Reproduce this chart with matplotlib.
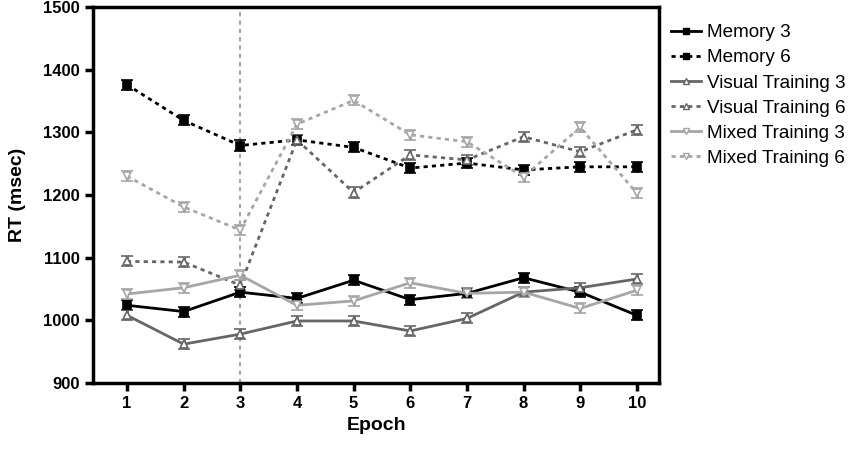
import numpy as np
import matplotlib.pyplot as plt
from matplotlib.lines import Line2D

plt.rcParams['font.family'] = ['Liberation Sans', 'DejaVu Sans']

epochs = [1, 2, 3, 4, 5, 6, 7, 8, 9, 10]
memory3 = [1024, 1014, 1045, 1035, 1064, 1033, 1043, 1068, 1045, 1008]
memory6 = [1376, 1319, 1279, 1288, 1276, 1243, 1251, 1240, 1245, 1245]
visual3 = [1008, 962, 978, 999, 999, 983, 1003, 1045, 1052, 1066]
visual6 = [1094, 1093, 1056, 1288, 1204, 1264, 1256, 1293, 1269, 1304]
mixed3 = [1042, 1052, 1072, 1024, 1031, 1060, 1043, 1045, 1019, 1048]
mixed6 = [1230, 1181, 1144, 1313, 1351, 1296, 1285, 1229, 1308, 1203]
err = 8

black = '#000000'
dark = '#666666'
light = '#a6a6a6'

series = [
    ('Memory 3', memory3, black, '-', 's'),
    ('Memory 6', memory6, black, ':', 's'),
    ('Visual Training 3', visual3, dark, '-', '^'),
    ('Visual Training 6', visual6, dark, ':', '^'),
    ('Mixed Training 3', mixed3, light, '-', 'v'),
    ('Mixed Training 6', mixed6, light, ':', 'v'),
]

fig = plt.figure(figsize=(8.48, 4.5), dpi=100)
ax = fig.add_axes([0.1097, 0.1489, 0.668, 0.8355])

ax.axvline(3, color=light, ls=(0, (2, 2)), lw=1.5, zorder=1)

handles = []
for name, vals, col, ls, mk in series:
    face = col if mk == 's' else 'white'
    lst = '-' if ls == '-' else (0, (1.5, 1.5))
    ax.errorbar(epochs, vals, yerr=err, color=col, ls=lst, lw=2,
                marker=mk, ms=6, mfc=face, mec=col, mew=1.2,
                ecolor=col, elinewidth=2, capsize=4, capthick=3,
                zorder=3)
    handles.append(Line2D([], [], color=col, ls=lst, lw=2, marker=mk,
                          ms=5, mfc=face, mec=col, mew=1, label=name))

ax.set_xlim(0.4, 10.4)
ax.set_ylim(900, 1500)
ax.set_xticks(epochs)
ax.set_yticks(range(900, 1501, 100))
for s in ax.spines.values():
    s.set_linewidth(2.5)
ax.tick_params(width=2.5, length=6, labelsize=12, direction='out')
for lab in ax.get_xticklabels() + ax.get_yticklabels():
    lab.set_fontweight('bold')
ax.set_xlabel('Epoch', fontsize=14, fontweight='bold')
ax.set_ylabel('RT (msec)', fontsize=14, fontweight='bold', labelpad=12)

ax.legend(handles=handles, loc='upper left', bbox_to_anchor=(1.0, 0.985),
          frameon=False, fontsize=13.6, handlelength=1.6, labelspacing=0.42,
          handletextpad=0.3, borderaxespad=0.2)

fig.savefig('out.png', dpi=100)
